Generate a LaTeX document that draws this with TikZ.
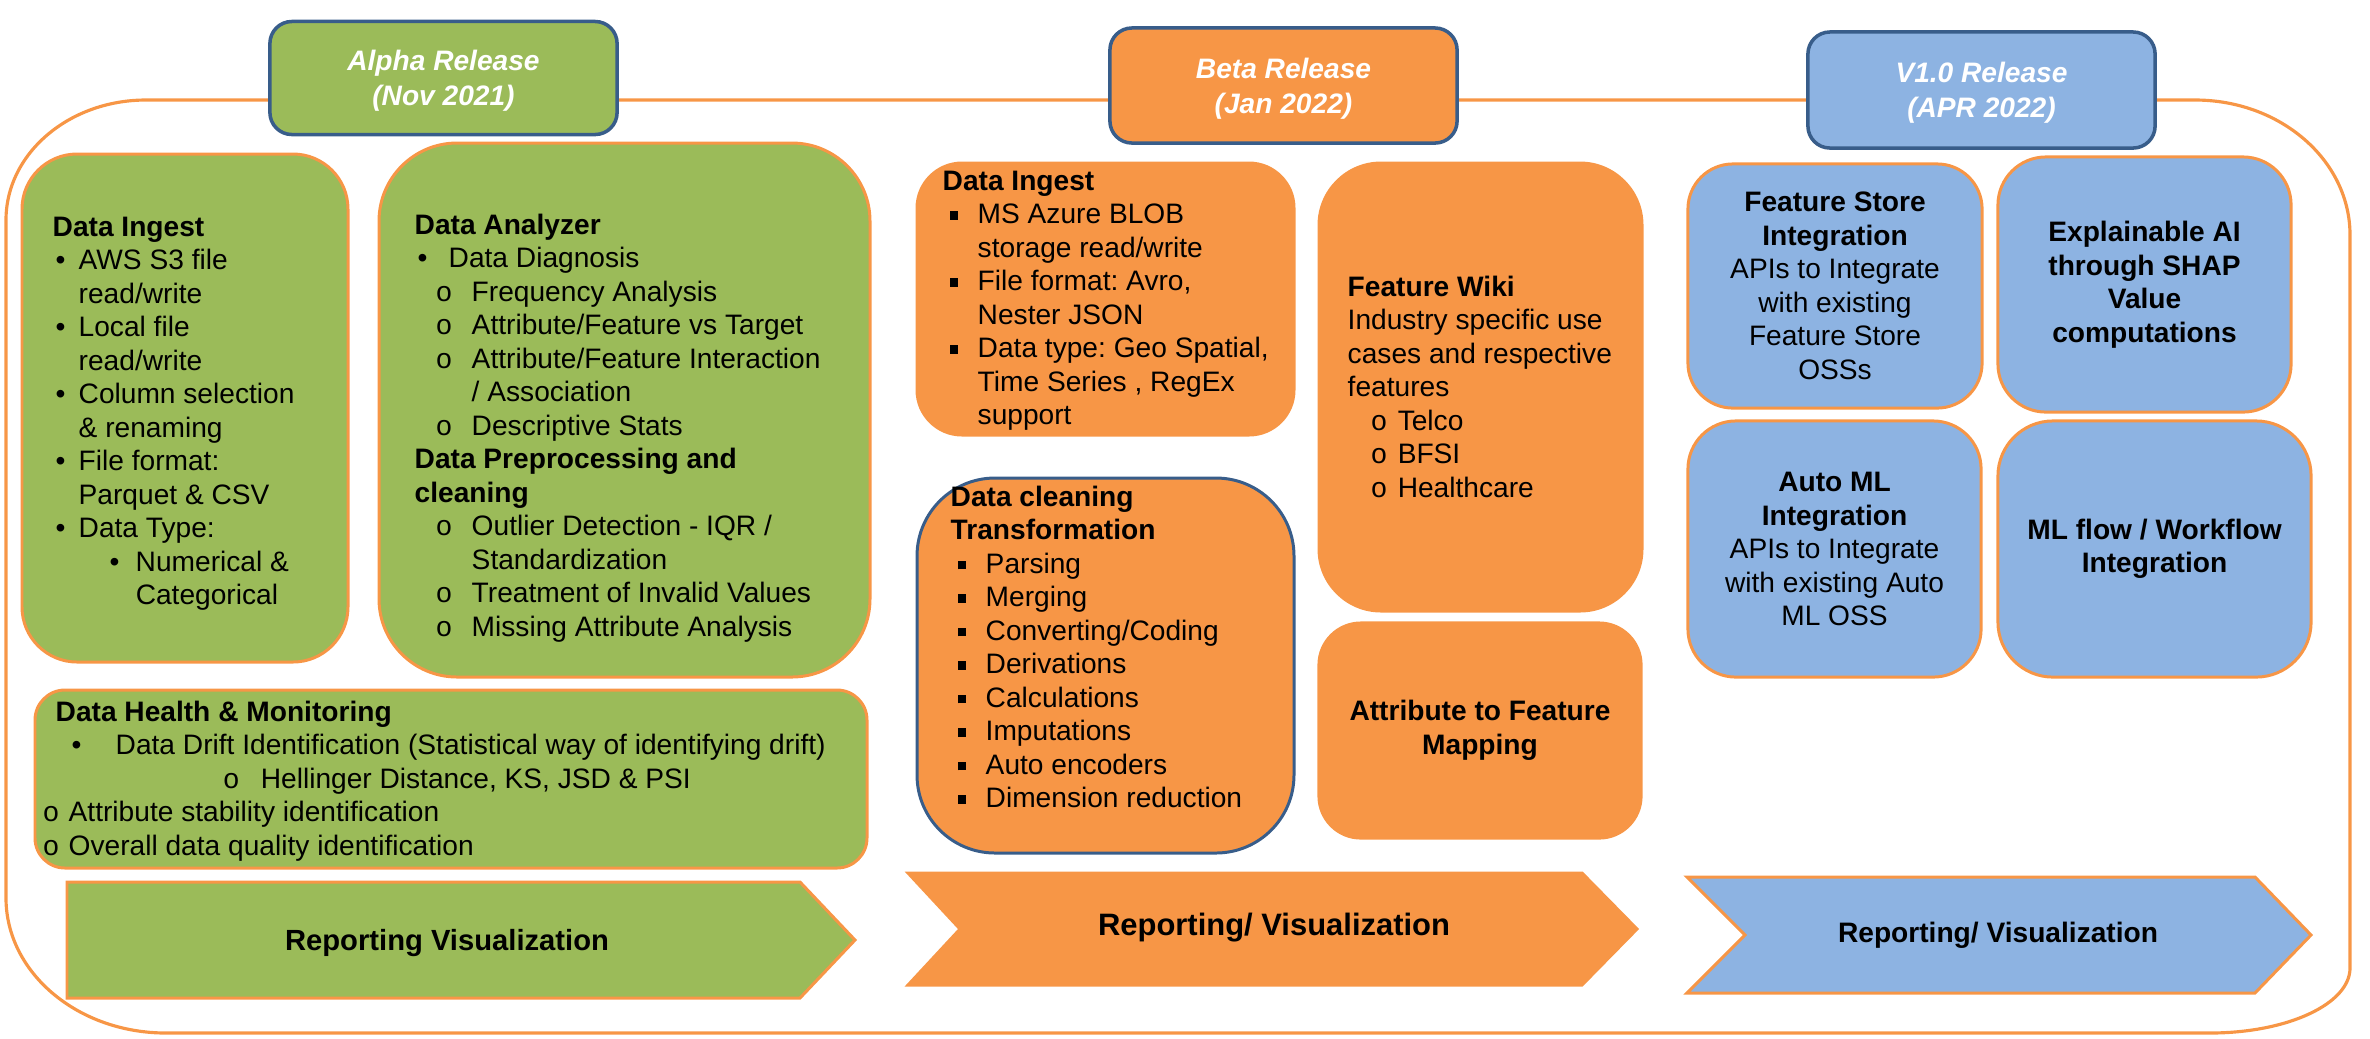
\documentclass[tikz,border=0pt]{standalone}
\usepackage{fontspec}
\setmainfont{Liberation Sans}
\newfontfamily\monof{Liberation Mono}
\definecolor{relgreen}{HTML}{9BBB59}
\definecolor{relorange}{HTML}{F79646}
\definecolor{relblue}{HTML}{8DB3E2}
\definecolor{hdrline}{HTML}{385D8A}
% list helpers: symbol offset, gap to text, symbol, text
\newcommand\itm[4]{\hspace*{#1mm}\makebox[#2mm][l]{#3}#4}
\newcommand\ind[2]{\hspace*{#1mm}#2}
\newcommand\subo{{\monof o}}
\newcommand\sqb{\rule[1.1pt]{2.4pt}{2.4pt}}
\frenchspacing
\begin{document}
\begin{tikzpicture}[x=0.01cm,y=0.01cm,
  body/.style={font=\fontsize{8}{9.53}\selectfont\frenchspacing, inner sep=0pt, align=left, anchor=north west},
  ctext/.style={font=\fontsize{8}{9.53}\selectfont, inner sep=0pt, align=center},
  box/.style={draw=relorange, line width=0.85pt, rounded corners=#1},
  hdr/.style={draw=hdrline, line width=1pt, rounded corners=2.2mm, inner sep=0pt,
    minimum width=3.47cm},
  htext/.style={text=white, font=\fontsize{8}{10}\selectfont\bfseries\itshape, align=center, inner sep=0pt},
  arrowlbl/.style={inner sep=0pt, font=\bfseries}
]
\useasboundingbox (0,0) rectangle (2370,-1038);

% outer release frame
\draw[relorange, line width=0.9pt]
  (146,-100) -- (2195,-100) arc[start angle=90,end angle=0,x radius=155,y radius=135]
  -- (2350,-968) arc[start angle=0,end angle=-90,x radius=140,y radius=65]
  -- (166,-1033) arc[start angle=270,end angle=180,x radius=160,y radius=135]
  -- (6,-220) arc[start angle=180,end angle=90,x radius=140,y radius=120] -- cycle;

% release headers
\node[hdr, fill=relgreen, minimum height=1.13cm] (alpha) at (443.5,-78) {};
\node[htext] (alphaT) at (443.5,-81) {Alpha Release\\(Nov 2021)};
\node[hdr, fill=relorange, minimum height=1.15cm] (beta) at (1283.5,-85.5) {};
\node[htext] (betaT) at (1283.5,-89) {Beta Release\\(Jan 2022)};
\node[hdr, fill=relblue, minimum height=1.16cm] (vone) at (1981.5,-90) {};
\node[htext] (voneT) at (1981.5,-93) {V1.0 Release\\(APR 2022)};

% ---------------- Alpha ----------------
\filldraw[box=5.5mm, fill=relgreen] (22,-154) rectangle (348,-662);
\node[body] (ingestA) at (52,-216) {\textbf{Data Ingest}\\
\itm{0.3}{2.3}{•}{AWS S3 file}\\
\ind{2.6}{read/write}\\
\itm{0.3}{2.3}{•}{Local file}\\
\ind{2.6}{read/write}\\
\itm{0.3}{2.3}{•}{Column selection}\\
\ind{2.6}{\& renaming}\\
\itm{0.3}{2.3}{•}{File format:}\\
\ind{2.6}{Parquet \& CSV}\\
\itm{0.3}{2.3}{•}{Data Type:}\\
\itm{5.7}{2.6}{•}{Numerical \&}\\
\ind{8.3}{Categorical}};

\filldraw[box=7.8mm, fill=relgreen] (379,-143) rectangle (870,-677);
\node[body] (analyzer) at (414,-213) {\textbf{Data Analyzer}\\
\itm{0.3}{3.1}{•}{Data Diagnosis}\\
\itm{2.1}{3.6}{\subo}{Frequency Analysis}\\
\itm{2.1}{3.6}{\subo}{Attribute/Feature vs Target}\\
\itm{2.1}{3.6}{\subo}{Attribute/Feature Interaction}\\
\ind{5.7}{/ Association}\\
\itm{2.1}{3.6}{\subo}{Descriptive Stats}\\
\textbf{Data Preprocessing and}\\
\textbf{cleaning}\\
\itm{2.1}{3.6}{\subo}{Outlier Detection - IQR /}\\
\ind{5.7}{Standardization}\\
\itm{2.1}{3.6}{\subo}{Treatment of Invalid Values}\\
\itm{2.1}{3.6}{\subo}{Missing Attribute Analysis}};

\filldraw[box=3mm, fill=relgreen] (35,-690) rectangle (867,-868);
\node[body] (health) at (55,-700) {\textbf{Data Health \& Monitoring}\\
\itm{1.6}{4.4}{•}{Data Drift Identification (Statistical way of identifying drift)}\\
\itm{16.7}{3.8}{\subo}{Hellinger Distance, KS, JSD \& PSI}\\
\itm{-1.3}{2.6}{\subo}{Attribute stability identification}\\
\itm{-1.3}{2.6}{\subo}{Overall data quality identification}};

\filldraw[fill=relgreen, draw=relorange, line width=0.85pt]
  (67,-882) -- (800,-882) -- (855,-940) -- (800,-998) -- (67,-998) -- cycle;
\node[arrowlbl, font=\fontsize{8.3}{10}\selectfont\bfseries] (repA) at (447,-943) {Reporting Visualization};

% ---------------- Beta ----------------
\filldraw[box=4.5mm, fill=relorange] (917,-163) rectangle (1294,-435);
\node[body] (ingestB) at (942,-170) {\textbf{Data Ingest}\\
\itm{0.7}{2.8}{\sqb}{MS Azure BLOB}\\
\ind{3.5}{storage read/write}\\
\itm{0.7}{2.8}{\sqb}{File format: Avro,}\\
\ind{3.5}{Nester JSON}\\
\itm{0.7}{2.8}{\sqb}{Data type: Geo Spatial,}\\
\ind{3.5}{Time Series , RegEx}\\
\ind{3.5}{support}};

\filldraw[box=6.2mm, fill=relorange] (1319,-163) rectangle (1642,-611);
\node[body] (wiki) at (1347,-275) {\textbf{Feature Wiki}\\
Industry specific use\\
cases and respective\\
features\\
\itm{2.3}{2.7}{\subo}{Telco}\\
\itm{2.3}{2.7}{\subo}{BFSI}\\
\itm{2.3}{2.7}{\subo}{Healthcare}};

\filldraw[box=7.8mm, fill=relorange, draw=hdrline] (917,-478) rectangle (1294,-853);
\node[body] (cleaning) at (950,-485) {\textbf{Data cleaning}\\
\textbf{Transformation}\\
\itm{0.7}{2.8}{\sqb}{Parsing}\\
\itm{0.7}{2.8}{\sqb}{Merging}\\
\itm{0.7}{2.8}{\sqb}{Converting/Coding}\\
\itm{0.7}{2.8}{\sqb}{Derivations}\\
\itm{0.7}{2.8}{\sqb}{Calculations}\\
\itm{0.7}{2.8}{\sqb}{Imputations}\\
\itm{0.7}{2.8}{\sqb}{Auto encoders}\\
\itm{0.7}{2.8}{\sqb}{Dimension reduction}};

\node[box=4.2mm, fill=relorange, ctext, minimum width=3.22cm, minimum height=2.15cm]
  (mapping) at (1480,-730.5) {\textbf{Attribute to Feature}\\\textbf{Mapping}};

\filldraw[fill=relorange, draw=relorange, line width=0.85pt]
  (908,-873) -- (1582,-873) -- (1637,-929) -- (1582,-985) -- (908,-985) -- (960,-929) -- cycle;
\node[arrowlbl, font=\fontsize{8.8}{10}\selectfont\bfseries] (repB) at (1274,-928) {Reporting/ Visualization};

% ---------------- V1.0 ----------------
\node[box=4.5mm, fill=relblue, ctext, minimum width=2.94cm, minimum height=2.44cm]
  (fstore) at (1835,-286) {\textbf{Feature Store}\\\textbf{Integration}\\APIs to Integrate\\with existing\\Feature Store\\OSSs};
\node[box=4.8mm, fill=relblue, ctext, minimum width=2.93cm, minimum height=2.55cm]
  (xai) at (2144.5,-284.5) {\textbf{Explainable AI}\\\textbf{through SHAP}\\\textbf{Value}\\\textbf{computations}};
\node[box=4.8mm, fill=relblue, ctext, minimum width=2.93cm, minimum height=2.56cm]
  (automl) at (1834.5,-549) {\textbf{Auto ML}\\\textbf{Integration}\\APIs to Integrate\\with existing Auto\\ML OSS};
\node[box=5.5mm, fill=relblue, ctext, minimum width=3.13cm, minimum height=2.56cm]
  (mlflow) at (2154.5,-549) {\textbf{ML flow / Workflow}\\\textbf{Integration}};

\filldraw[fill=relblue, draw=relorange, line width=0.85pt]
  (1687,-877) -- (2255,-877) -- (2311,-935) -- (2255,-993) -- (1687,-993) -- (1745,-935) -- cycle;
\node[arrowlbl, font=\fontsize{8}{10}\selectfont\bfseries] (repC) at (1998,-935) {Reporting/ Visualization};
\end{tikzpicture}
\end{document}
